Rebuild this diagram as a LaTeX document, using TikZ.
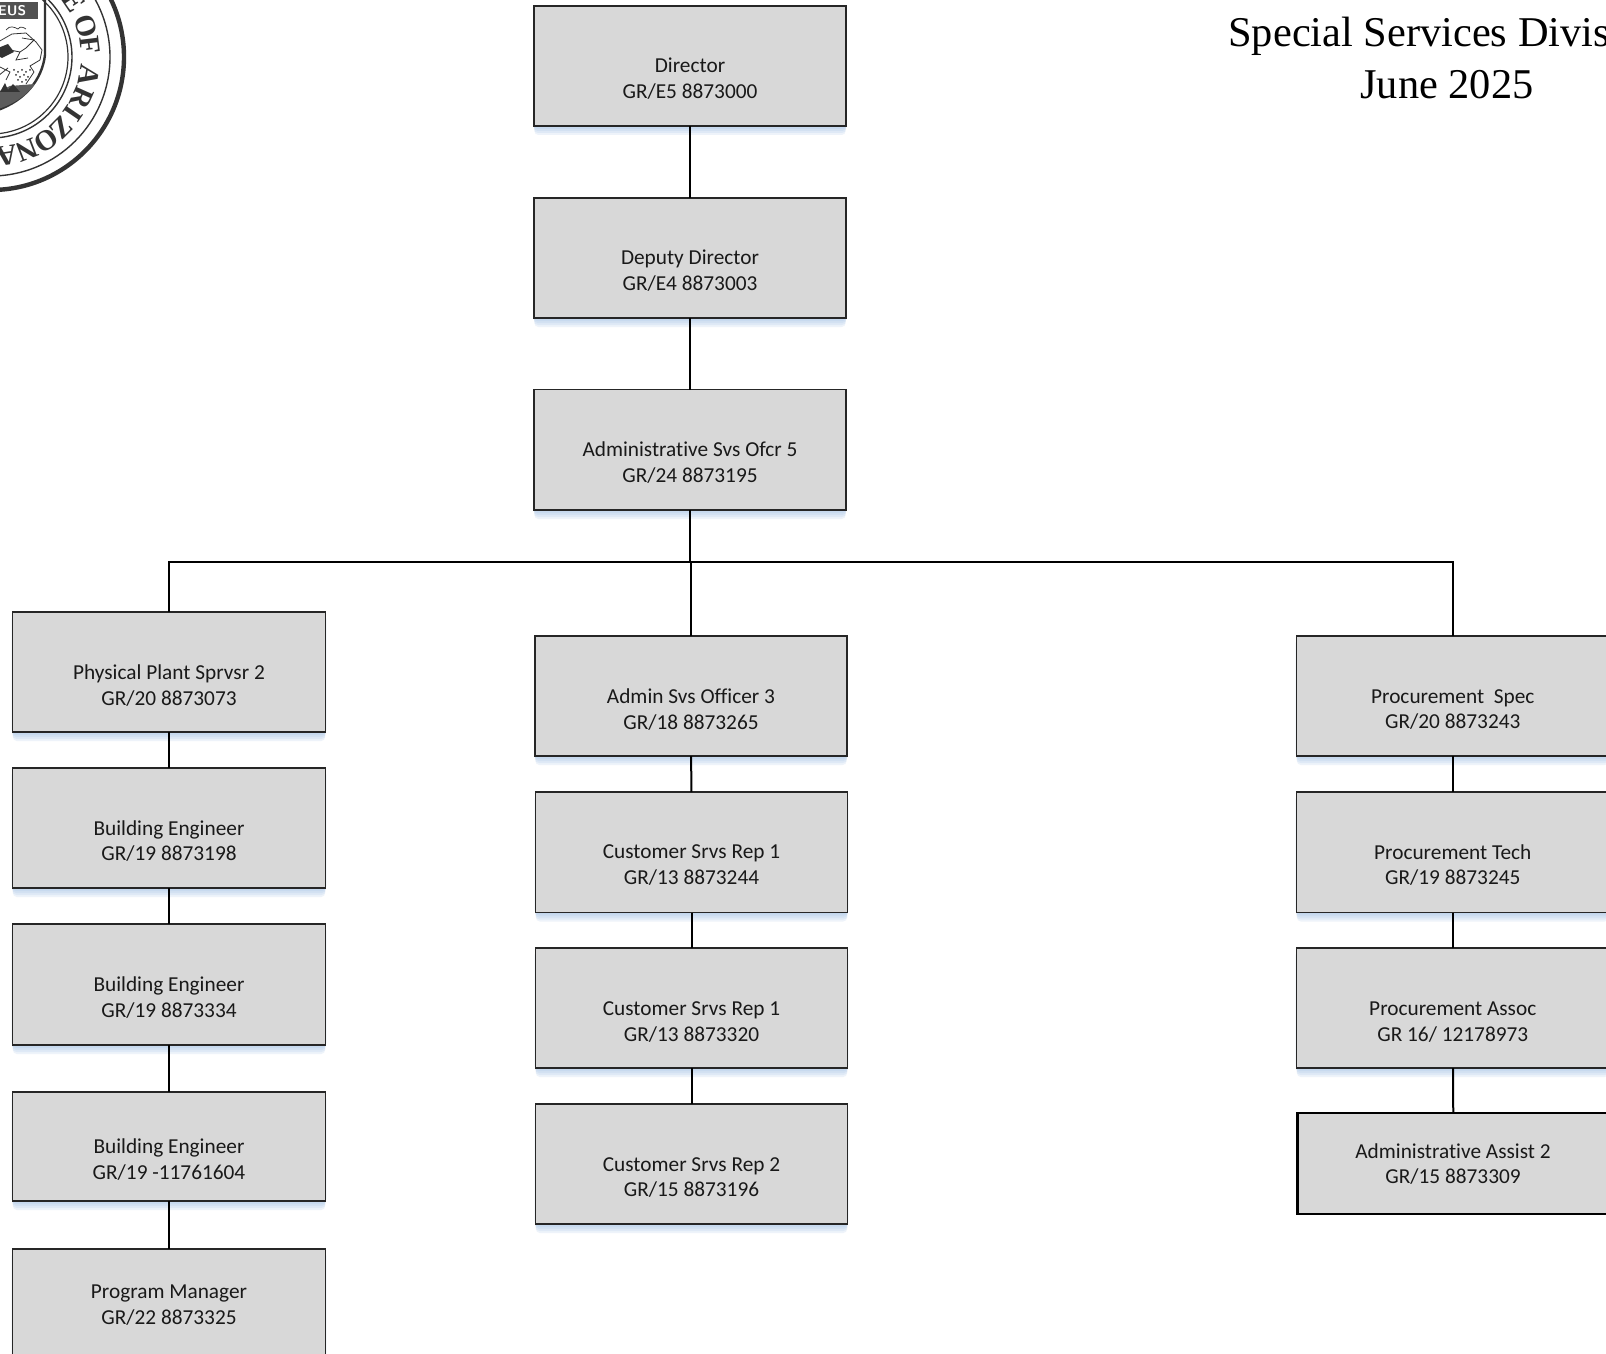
\documentclass[tikz,border=0pt]{standalone}
\usepackage{fontspec}
\setmainfont[Ligatures=CommonOff]{Carlito}
\newfontfamily\titlefont{Liberation Serif}
\definecolor{boxfill}{HTML}{D8D8D8}
\definecolor{boxline}{HTML}{262626}
\definecolor{shadowblue}{HTML}{8FB4E0}
\definecolor{sealink}{HTML}{333333}
\tikzset{
  x=0.5pt,y=-0.5pt,
  orgbox/.style={draw=boxline,fill=boxfill,line width=0.65pt,inner sep=0pt,outer sep=0pt},
  heavybox/.style={orgbox,draw=black,line width=1.2pt},
  orgtext/.style={inner sep=0pt,align=center,font=\fontsize{10.65}{12.8}\selectfont,text=black!90},
  link/.style={draw=black,line width=1pt},
  shadowlayer/.style={fill=shadowblue,opacity=0.15,rounded corners=2pt},
  sealletter/.style={font=\titlefont\bfseries\fontsize{14.5}{15}\selectfont,text=sealink,inner sep=0pt},
  sealring/.style={draw=sealink},
}
\newcommand{\orgnode}[8]{% name x1 y1 x2 y2 textcentre line1 line2
  \foreach \sh in {1,3,5,7,9}{
    \path[shadowlayer] ({#2-1+0.15*\sh},{#3+3}) rectangle ({#4+1-0.15*\sh},{#5+\sh});
  }
  \node[orgbox,minimum width={(#4-#2)*0.5pt},minimum height={(#5-#3)*0.5pt}] (#1)
    at ({(#2+#4)/2},{(#3+#5)/2}) {};
  \node[orgtext] (#1text) at ({(#2+#4)/2},#6) {#7\\#8};
}
\begin{document}
\begin{tikzpicture}
\useasboundingbox (0,0) rectangle (1606,1354);
\clip (0,0) rectangle (1606,1354);
\fill[white] (0,0) rectangle (1606,1354);

% seal
\coordinate (sealc) at (-9,57);
\draw[sealring,line width=2.2pt] (sealc) circle[radius=133];
\draw[sealring,line width=0.7pt] (sealc) circle[radius=119];
\draw[sealring,line width=0.7pt] (sealc) circle[radius=81];
\draw[sealring,line width=0.6pt] (sealc) circle[radius=77];
\foreach \ltr/\ang/\nm in {E/-34/a,O/-18/b,F/-7/c,A/10.5/d,R/24/e,I/34.5/f,Z/45/g,O/56.6/h,N/69/i,A/81/j}{
  \node[sealletter,rotate={-90-\ang}] (seal\nm) at ({-9+100*cos(\ang)},{57+100*sin(\ang)}) {\ltr};
}
% shield
\draw[sealink,line width=1.2pt] (45,-2) -- (45,55) .. controls (42,80) and (25,100) .. (-2,110);
\fill[sealink!85] (-2,2) rectangle (38,19);
\node[inner sep=0pt,text=white,font=\sffamily\bfseries\fontsize{7}{7}\selectfont] (sealmotto) at (12,10.5) {EUS};
\fill[sealink!80] (-2,92) -- (10,86) -- (35,84) .. controls (26,96) and (14,104) .. (-2,109) -- cycle;
\fill[sealink] (0,92) -- (5,83) -- (8,90) -- (13,84) -- (20,92) -- cycle;
\draw[sealink,line width=0.35pt] (6,30) .. controls (10,25) and (14,27) .. (18,29) (18,29) .. controls (20,26) and (23,27) .. (26,29);
\draw[sealink,line width=0.4pt] (-2,42) -- (12,34) -- (26,33) -- (36,42) -- (42,50) -- (40,60) -- (30,66) -- (34,72) -- (26,84);
\draw[sealink,line width=0.4pt] (-2,58) -- (10,50) -- (20,52) -- (16,60) -- (28,58) (22,38) -- (34,40) -- (26,48) -- (20,52);
\fill[sealink] (-2,48) -- (8,44) -- (14,52) -- (2,58) -- (-2,56) -- cycle;
\foreach \dx/\dy in {14/70,18/72,22/70,26/72,30/70,16/75,20/77,24/75,28/77,18/80,22/82,26/80}{
  \fill[sealink] (\dx,\dy) circle[radius=1];
}
\draw[sealink,line width=0.4pt] (-2,66) -- (10,72) -- (6,80) (-2,76) -- (8,68);

% title
\node[anchor=base west,inner sep=0pt,font=\titlefont\fontsize{21.2}{21.2}\selectfont] (title1) at (1228,47) {Special Services Divis};
\node[anchor=base,inner sep=0pt,font=\titlefont\fontsize{21.2}{21.2}\selectfont] (title2) at (1447,98) {June 2025};

% top
\orgnode{dir}{534}{6}{846}{126}{78.4}{Director}{GR/E5 8873000}
\orgnode{dep}{534}{198}{846}{318}{270.4}{Deputy Director}{GR/E4 8873003}
\orgnode{aso}{534}{389.5}{846}{510}{462.4}{Administrative Svs Ofcr 5}{GR/24 8873195}
% left
\orgnode{ppl}{12.5}{612}{325.5}{732}{685.3}{Physical Plant Sprvsr 2}{GR/20 8873073}
\orgnode{be1}{12.5}{768}{325.5}{888}{840.9}{Building Engineer}{GR/19 8873198}
\orgnode{be2}{12.5}{924}{325.5}{1045}{997.3}{Building Engineer}{GR/19 8873334}
\orgnode{be3}{12.5}{1092}{325.5}{1201}{1159.6}{Building Engineer}{GR/19 -11761604}
\orgnode{pgm}{12.5}{1249}{325.5}{1369}{1305.2}{Program Manager}{GR/22 8873325}
% centre
\orgnode{asv}{535}{636}{847}{756}{709.6}{Admin Svs Officer 3}{GR/18 8873265}
\orgnode{csa}{535.5}{792}{847.5}{912.5}{865.2}{Customer Srvs Rep 1}{GR/13 8873244}
\orgnode{csb}{535.5}{948}{847.5}{1068}{1021.9}{Customer Srvs Rep 1}{GR/13 8873320}
\orgnode{csc}{535.5}{1104}{847.5}{1224}{1177.7}{Customer Srvs Rep 2}{GR/15 8873196}
% right
\orgnode{prs}{1296.5}{636}{1609}{756}{709.6}{Procurement\ \ Spec}{GR/20 8873243}
\orgnode{prt}{1296.5}{792}{1609}{912.5}{865.2}{Procurement Tech}{GR/19 8873245}
\orgnode{pra}{1296.5}{948}{1609}{1068}{1021.9}{Procurement Assoc}{GR 16/ 12178973}
\node[heavybox,minimum width={312*0.5pt},minimum height={101*0.5pt}] (ada) at (1453.5,1163.5) {};
\node[orgtext] (adatext) at (1453,1164) {Administrative Assist 2\\GR/15 8873309};

% connectors
\coordinate (busm) at (690,562);
\coordinate (busl) at (ppl.north |- busm);
\coordinate (busr) at (prs.north |- busm);
\draw[link] (dir) -- (dep);
\draw[link] (dep) -- (aso);
\draw[link] (aso.south) -- (busm);
\draw[link] (ppl.north) -- (busl) -- (busr) -- (prs.north);
\draw[link] (asv.north) -- (asv.north |- busm);
\draw[link] (ppl) -- (be1);
\draw[link] (be1) -- (be2);
\draw[link] (be2) -- (be3);
\draw[link] (be3) -- (pgm);
\draw[link] (asv) -- (csa);
\draw[link] (csa) -- (csb);
\draw[link] (csb) -- (csc);
\draw[link] (prs) -- (prt);
\draw[link] (prt) -- (pra);
\draw[link] (pra) -- (ada);
\end{tikzpicture}
\end{document}
